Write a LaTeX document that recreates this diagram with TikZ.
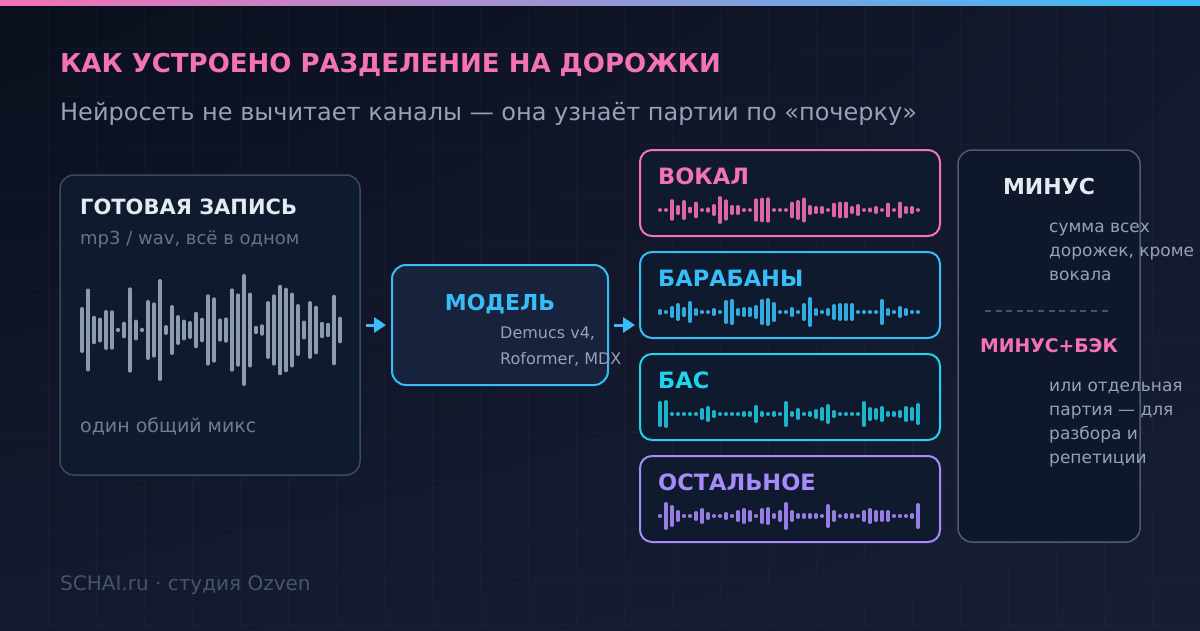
\documentclass[tikz,border=0pt]{standalone}
\usepackage{fontspec}
\setmainfont{DejaVu Sans}
\usetikzlibrary{arrows.meta,shadings}
\definecolor{bgA}{HTML}{0A0F1D}
\definecolor{bgB}{HTML}{171D33}
\definecolor{pinkC}{HTML}{F472B6}
\definecolor{skyC}{HTML}{38BDF8}
\definecolor{cyanC}{HTML}{22D3EE}
\definecolor{violetC}{HTML}{A78BFA}
\definecolor{slateA}{HTML}{94A3B8}
\definecolor{slateB}{HTML}{64748B}
\definecolor{slateC}{HTML}{475569}
\definecolor{edgeC}{HTML}{3A4A5F}
\definecolor{panelC}{HTML}{101A2E}
\definecolor{modelC}{HTML}{17223C}
\definecolor{inkC}{HTML}{E5EAF2}
\definecolor{waveC}{HTML}{8D9BB0}

% one bar every 6pt, half heights in the list
\newcommand{\wave}[5]{%
	\foreach \h [count=\i from 0] in {#5}
		\draw[wbar=#3, #4] ({#1+6*\i}, {#2-max(\h-#3/2,0.2)}) -- ({#1+6*\i}, {#2+max(\h-#3/2,0.2)});}

\begin{document}
\begin{tikzpicture}[x=1pt, y=-1pt,
	panel/.style={draw=edgeC, line width=1.5pt, fill=panelC, rounded corners=14pt, inner sep=0pt},
	stembox/.style={draw=#1, line width=2pt, fill=panelC, rounded corners=12pt, minimum width=300pt, minimum height=86pt, inner sep=0pt},
	txt/.style={anchor=base west, inner sep=0pt},
	ttl/.style={txt, font=\bfseries\fontsize{22.5}{26}\selectfont},
	note/.style={txt, text=slateA, font=\fontsize{16}{20}\selectfont},
	flow/.style={draw=skyC, line width=3pt, -{Triangle[length=12pt,width=15pt,fill=skyC]}, shorten <=5pt, shorten >=5pt},
	wbar/.style={line cap=round, line width=#1pt},
	gridline/.style={draw=white, opacity=0.025, line width=1pt}]
	\useasboundingbox (0,0) rectangle (1200,630);
	% background
	\shade[upper left=bgA, lower left=bgB!80!bgA, upper right=bgB!70!bgA, lower right=bgB] (0,0) rectangle (1200,630);
	\foreach \gx in {48,96,...,1152} \draw[gridline] (\gx,0) -- (\gx,630);
	\foreach \gy in {48,96,...,624} \draw[gridline] (0,\gy) -- (1200,\gy);
	\shade[left color=pinkC, right color=skyC] (0,0) rectangle (1200,5);

	% heading
	\node (Title) at (60,72) [txt, text=pinkC, font=\bfseries\fontsize{26}{30}\selectfont] {КАК УСТРОЕНО РАЗДЕЛЕНИЕ НА ДОРОЖКИ};
	\node (Sub) at (60,120) [txt, text=slateA, font=\fontsize{24}{28}\selectfont] {Нейросеть не вычитает каналы — она узнаёт партии по «почерку»};

	% input mix
	\node (Mix) at (210,325) [panel, minimum width=300pt, minimum height=300pt] {};
	\node (MixT) at (80,214) [txt, text=inkC, font=\bfseries\fontsize{21}{24}\selectfont] {ГОТОВАЯ ЗАПИСЬ};
	\node (MixS) at (80,244) [txt, text=slateB, font=\fontsize{18}{20}\selectfont] {mp3 / wav, всё в одном};
	\node (MixN) at (80,432) [txt, text=slateB!80!slateA, font=\fontsize{19}{22}\selectfont] {один общий микс};
	\wave{82}{330}{4}{waveC}{23,41.5,14.3,12.5,20,19.7,2,8.3,42.7,10.5,2,30,27.7,51,5,25,15,10.5,9,18.3,12.3,35.7,32.7,11.7,12.7,41.7,36.7,56,37.5,4.2,5.8,29,35.7,45.3,42.3,37.5,26,9.5,29,24.3,8.2,7.2,35.3,13.3}

	% model
	\node (Model) at (500,325) [panel, draw=skyC, line width=2pt, fill=modelC, minimum width=216pt, minimum height=120pt] {};
	\node (ModelT) at (500,310) [ttl, anchor=base, text=skyC, font=\bfseries\fontsize{22}{26}\selectfont] {МОДЕЛЬ};
	\node (ModelA) at (500,338) [note] {Demucs v4,};
	\node (ModelB) at (500,364) [note] {Roformer, MDX};
	\coordinate (Split) at (640,325);
	\draw[flow] (Mix) -- (Model);
	\draw[flow] (Model) -- (Split);

	% stems
	\node (Vox) at (790,193) [stembox=pinkC] {};
	\node (VoxT) at (658,184) [ttl, text=pinkC] {ВОКАЛ};
	\wave{660}{210}{3.4}{pinkC!90!black}{1.5,1.5,10.8,5,10,3.3,8.3,1.5,2.7,6,14,10.7,5,5,2,1.5,11.7,12.3,12.7,1.5,1.5,1.5,8.3,10,12.5,5,4,4,1.5,7.3,8.3,8.3,4,6,1.5,2.5,4,1.5,7.3,1.5,8.3,4,4,1.5}

	\node (Drums) at (790,295) [stembox=skyC] {};
	\node (DrumsT) at (658,286) [ttl, text=skyC] {БАРАБАНЫ};
	\wave{660}{312}{3.4}{skyC!90!black}{3,2,6,9,5,11,4,2,2,4,2,12,13,4,5,5,7,13,14,10,2,2,5,2,9,15,4,2,4,8,9,9,9,2,2,2,2,13,4,2,6,4,2,2}

	\node (Bass) at (790,397) [stembox=cyanC] {};
	\node (BassT) at (658,388) [ttl, text=cyanC] {БАС};
	\wave{660}{414}{3.4}{cyanC!85!black}{13,14,2,2,2,2,2,6,8,4,2,2,2,2,3,3,9,3,2,3,2,13,3,6,2,3,5,7,10,4,2,2,2,2,13,7,6,8,3,3,4,8,7,11}

	\node (Other) at (790,499) [stembox=violetC] {};
	\node (OtherT) at (658,490) [ttl, text=violetC] {ОСТАЛЬНОЕ};
	\wave{660}{516}{3.4}{violetC!90!black}{2,14,11,6,2,2,5,8,4,2,2,4,2,6,8,6,2,8,9,3,6,14,6,3,3,3,3,2,12,6,2,3,3,2,6,8,6,6,6,2,2,2,3,13}

	% result
	\node (Minus) at (1049,346) [panel, draw=edgeC!90!white, fill=panelC!80!bgA, minimum width=182pt, minimum height=392pt] {};
	\node (MinusT) at (1049,194) [ttl, anchor=base, text=inkC, font=\bfseries\fontsize{22}{26}\selectfont] {МИНУС};
	\node (MinusA) at (1049,232) [note, font=\fontsize{17}{20}\selectfont] {сумма всех};
	\node (MinusB) at (1049,256) [note, font=\fontsize{17}{20}\selectfont] {дорожек, кроме};
	\node (MinusC) at (1049,280) [note, font=\fontsize{17}{20}\selectfont] {вокала};
	\draw[slateC, line width=1.5pt, dash pattern=on 6pt off 4.6pt] (985,311) -- (1112,311);
	\node (BackT) at (1049,352) [ttl, anchor=base, text=pinkC, font=\bfseries\fontsize{18.8}{22}\selectfont] {МИНУС+БЭК};
	\node (BackA) at (1049,391) [note, font=\fontsize{17}{20}\selectfont] {или отдельная};
	\node (BackB) at (1049,415) [note, font=\fontsize{17}{20}\selectfont] {партия — для};
	\node (BackC) at (1049,439) [note, font=\fontsize{17}{20}\selectfont] {разбора и};
	\node (BackD) at (1049,463) [note, font=\fontsize{17}{20}\selectfont] {репетиции};

	% footer
	\node (Foot) at (60,590) [txt, text=slateC, font=\fontsize{20}{22}\selectfont] {SCHAI.ru · студия Ozven};
\end{tikzpicture}
\end{document}
